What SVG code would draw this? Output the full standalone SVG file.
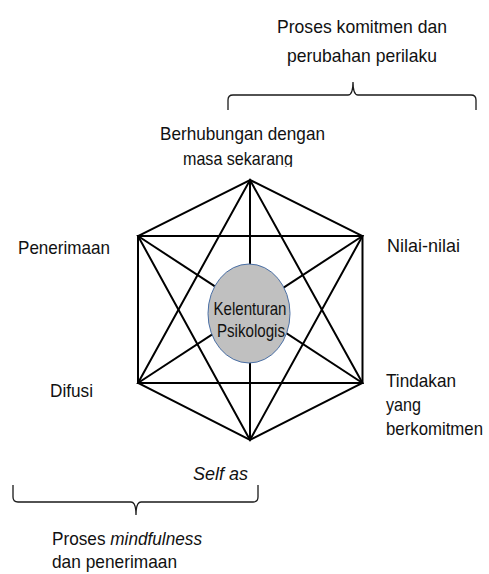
<svg xmlns="http://www.w3.org/2000/svg" width="489" height="574" viewBox="0 0 489 574">
<style>
.t{font-family:"Liberation Sans",Arial,sans-serif;font-size:19px;fill:#111}
.i{font-style:italic}
.edge{stroke:#000;stroke-width:2;fill:none;stroke-linejoin:miter}
.brace{stroke:#1a1a1a;stroke-width:1.3;fill:none}
</style>
<defs>
<clipPath id="clipTop"><rect x="140" y="110" width="220" height="57"/></clipPath>
</defs>
<rect width="489" height="574" fill="#fff"/>
<g id="connectors">
<polygon class="edge" points="250,180 362.5,236 362.5,383 250,440 138,383 138,236"/>
<polygon class="edge" points="250,180 362.5,383 138,383"/>
<polygon class="edge" points="250,440 138,236 362.5,236"/>
<line class="edge" x1="250" y1="180" x2="250" y2="440"/>
<line class="edge" x1="138" y1="236" x2="362.5" y2="383"/>
<line class="edge" x1="362.5" y1="236" x2="138" y2="383"/>
</g>
<g id="center">
<ellipse cx="249" cy="313.5" rx="41" ry="49.5" fill="#c0c0c0" stroke="#4a6fa5" stroke-width="1"/>
<text class="t" x="250" y="315" text-anchor="middle" font-size="20" textLength="73" lengthAdjust="spacingAndGlyphs">Kelenturan</text>
<text class="t" x="251" y="337" text-anchor="middle" font-size="20" textLength="68" lengthAdjust="spacingAndGlyphs">Psikologis</text>
</g>
<g id="top-brace">
<path class="brace" d="M228,110 L228,100 Q228,95 233,95 L348,95 Q353,95 353,82 Q353,95 358,95 L471,95 Q476,95 476,100 L476,110"/>
<text class="t" x="277" y="33" textLength="170" lengthAdjust="spacingAndGlyphs">Proses komitmen dan</text>
<text class="t" x="287" y="62" textLength="150" lengthAdjust="spacingAndGlyphs">perubahan perilaku</text>
</g>
<g id="node-top">
<text class="t" x="160" y="140" textLength="165" lengthAdjust="spacingAndGlyphs">Berhubungan dengan</text>
<text class="t" x="183" y="165" textLength="110" lengthAdjust="spacingAndGlyphs" clip-path="url(#clipTop)">masa sekarang</text>
</g>
<g id="node-upper-left">
<text class="t" x="18" y="254" textLength="92" lengthAdjust="spacingAndGlyphs">Penerimaan</text>
</g>
<g id="node-lower-left">
<text class="t" x="50" y="397" textLength="43" lengthAdjust="spacingAndGlyphs">Difusi</text>
</g>
<g id="node-upper-right">
<text class="t" x="387" y="252" textLength="73" lengthAdjust="spacingAndGlyphs">Nilai-nilai</text>
</g>
<g id="node-lower-right">
<text class="t" x="386" y="387" textLength="70" lengthAdjust="spacingAndGlyphs">Tindakan</text>
<text class="t" x="386" y="411" textLength="35" lengthAdjust="spacingAndGlyphs">yang</text>
<text class="t" x="483" y="435" text-anchor="end" font-size="17.5" textLength="97" lengthAdjust="spacingAndGlyphs">berkomitmen</text>
</g>
<g id="node-bottom">
<text class="t i" x="193" y="480" textLength="55" lengthAdjust="spacingAndGlyphs">Self as</text>
</g>
<g id="bottom-brace">
<path class="brace" d="M13,485 L13,497 Q13,502 18,502 L131,502 Q136,502 136,515 Q136,502 141,502 L253,502 Q258,502 258,497 L258,485"/>
<text class="t" x="52" y="545" textLength="150" lengthAdjust="spacingAndGlyphs">Proses <tspan class="i">mindfulness</tspan></text>
<text class="t" x="52" y="568" textLength="125" lengthAdjust="spacingAndGlyphs">dan penerimaan</text>
</g>
</svg>
